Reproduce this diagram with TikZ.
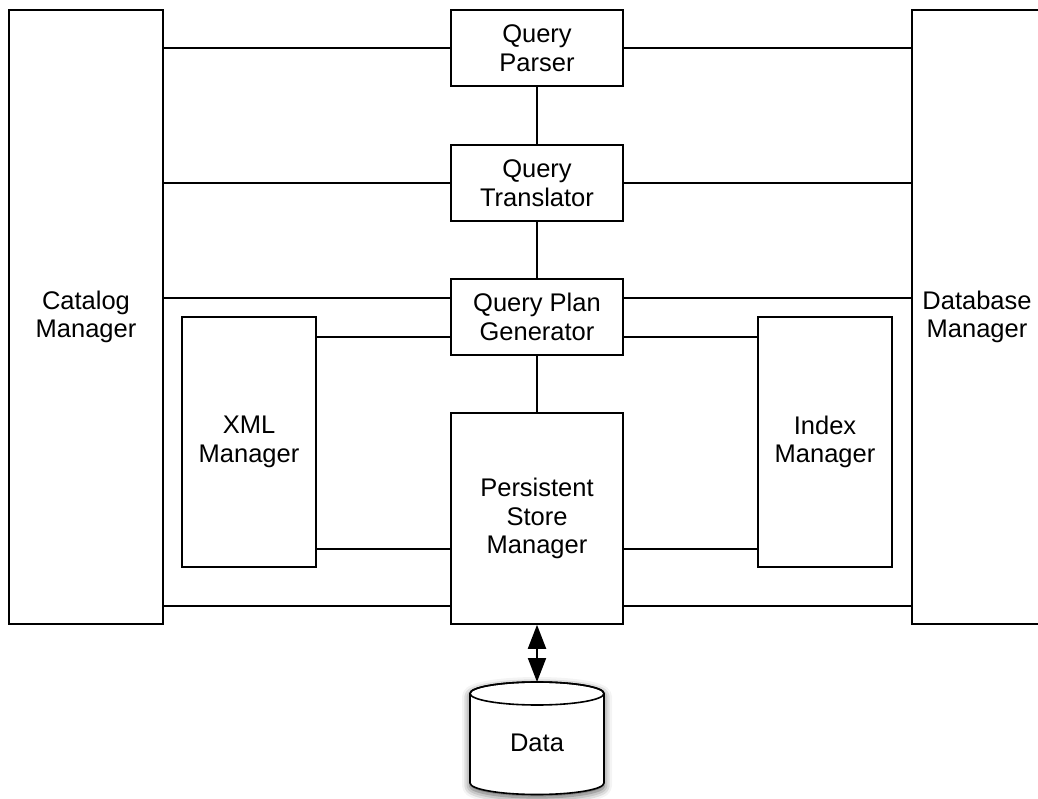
\documentclass[tikz,border=0pt]{standalone}
\usepackage{fontspec}
\setmainfont{Liberation Sans}
\usetikzlibrary{arrows.meta,shadows.blur}

\begin{document}
\begin{tikzpicture}[x=1pt,y=1pt,
  box/.style={draw, line width=1.6pt, fill=white, align=center, inner sep=0pt,
    font=\fontsize{25.5}{28.5}\selectfont},
  link/.style={line width=1.6pt},
  io/.style={line width=2pt, draw=black,
    {Triangle[length=24pt,width=18pt,fill=black]}-{Triangle[length=24pt,width=18pt,fill=black]}}
]
\clip (0,0) rectangle (1038,798);

% side managers
\node[box, minimum width=154, minimum height=614] (cat) at (86,481) {Catalog\\Manager};
\node[box, minimum width=130, minimum height=614] (db) at (977,481) {Database\\Manager};

% query pipeline
\node[box, minimum width=172, minimum height=76] (qp) at (537,750) {Query\\Parser};
\node[box, minimum width=172, minimum height=76] (qt) at (537,615) {Query\\Translator};
\node[box, minimum width=172, minimum height=76] (qpg) at (537,481) {Query Plan\\Generator};
\node[box, minimum width=172, minimum height=211] (psm) at (537,279.5) {Persistent\\Store\\Manager};

% inner managers
\node[box, minimum width=134, minimum height=250] (xml) at (249,356) {XML\\Manager};
\node[box, minimum width=134, minimum height=250] (idx) at (825,356) {Index\\Manager};

% attachment points on the plan generator and the store
\path (qpg.west) ++(0,19) coordinate (qpgw1) ++(0,-39) coordinate (qpgw2);
\path (qpg.east) ++(0,19) coordinate (qpge1) ++(0,-39) coordinate (qpge2);
\path (psm.south west) ++(0,19) coordinate (psmw1) ++(0,57) coordinate (psmw2);
\path (psm.south east) ++(0,19) coordinate (psme1) ++(0,57) coordinate (psme2);

% vertical chain
\draw[link] (qp.south) -- (qt.north);
\draw[link] (qt.south) -- (qpg.north);
\draw[link] (qpg.south) -- (psm.north);

% catalog manager links
\draw[link] (cat.east |- qp.west) -- (qp.west);
\draw[link] (cat.east |- qt.west) -- (qt.west);
\draw[link] (cat.east |- qpgw1) -- (qpgw1);
\draw[link] (cat.east |- psmw1) -- (psmw1);

% database manager links
\draw[link] (qp.east) -- (db.west |- qp.east);
\draw[link] (qt.east) -- (db.west |- qt.east);
\draw[link] (qpge1) -- (db.west |- qpge1);
\draw[link] (psme1) -- (db.west |- psme1);

% xml and index manager links
\draw[link] (xml.east |- qpgw2) -- (qpgw2);
\draw[link] (xml.east |- psmw2) -- (psmw2);
\draw[link] (qpge2) -- (idx.west |- qpge2);
\draw[link] (psme2) -- (idx.west |- psme2);

% data store cylinder
\coordinate (datatop) at (537,116);
\path[draw, line width=1.6pt, fill=white,
  blur shadow={shadow xshift=0pt, shadow yshift=-3pt, shadow blur radius=8pt, shadow opacity=70}]
  (470,104.5) -- (470,15) arc[start angle=180, end angle=360, x radius=67, y radius=11.5]
  -- (604,104.5) arc[start angle=0, end angle=180, x radius=67, y radius=11.5] -- cycle;
\draw[line width=1.6pt] (537,104.5) ellipse[x radius=67, y radius=11.5];
\node[font=\fontsize{25.5}{28.5}\selectfont] (data) at (537,55) {Data};

\draw[io] (psm.south) -- (datatop);
\end{tikzpicture}
\end{document}
